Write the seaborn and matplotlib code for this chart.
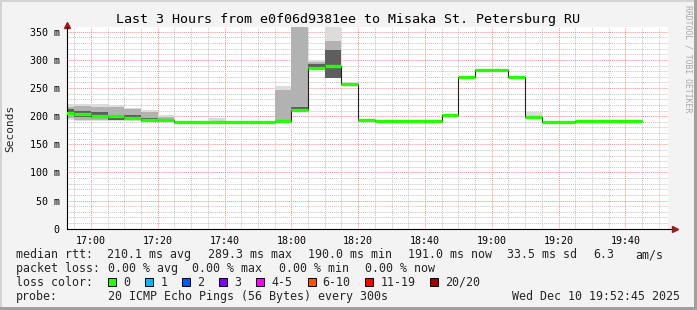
import matplotlib
matplotlib.use("Agg")
import matplotlib.pyplot as plt
import matplotlib.dates as mdates
from matplotlib.patches import Rectangle
from matplotlib.ticker import MultipleLocator, FuncFormatter
import numpy as np
import pandas as pd
import seaborn as sns

# ---------------- data ----------------
day = "2025-12-10 "
interval_start = ["16:50", "16:55", "17:00", "17:05", "17:10", "17:15", "17:20",
                  "17:25", "17:30", "17:35", "17:40", "17:45", "17:50", "17:55",
                  "18:00", "18:05", "18:10", "18:15", "18:20", "18:25", "18:30",
                  "18:35", "18:40", "18:45", "18:50", "18:55", "19:00", "19:05",
                  "19:10", "19:15", "19:20", "19:25", "19:30", "19:35", "19:40"]
median_ms = [206, 203.5, 201, 199.5, 197.5, 193, 192.5,
             190.5, 190.5, 190.5, 190.5, 190.5, 190.5, 191.5,
             211, 286, 290, 257, 193, 191, 191,
             191, 191, 202, 269.5, 281.5, 281.5, 269.5,
             199, 190.5, 190.5, 191.5, 191.5, 191.5, 191.5]
# smoke bands (outer / mid / inner ranges of the 20 pings)
outer_lo = [193, 191, 191, 191, 192, 191, 191,
            190.5, 190.5, 190, 190.5, 190.5, 190.5, 191,
            211, 283, 268, 257, 191, 191, 191,
            191, 191, 202, 269.5, 281.5, 281.5, 269.5,
            197, 190.5, 190.5, 191.5, 191.5, 191.5, 191.5]
outer_hi = [221, 221, 221, 219, 214, 211, 202,
            190.5, 190.5, 196, 190.5, 190.5, 190.5, 254,
            370, 299, 370, 257, 195, 191, 191,
            191, 191, 202, 269.5, 281.5, 281.5, 269.5,
            207, 190.5, 190.5, 191.5, 191.5, 191.5, 191.5]
mid_lo = [196, 194, 193, 193, 193, 192, 191,
          190.5, 190.5, 190.5, 190.5, 190.5, 190.5, 191,
          211, 284, 268, 257, 193, 191, 191,
          191, 191, 202, 269.5, 281.5, 281.5, 269.5,
          199, 190.5, 190.5, 191.5, 191.5, 191.5, 191.5]
mid_hi = [217, 218, 217, 216, 212, 207, 199,
          190.5, 190.5, 190.5, 190.5, 190.5, 190.5, 246,
          370, 296, 334, 257, 193, 191, 191,
          191, 191, 202, 269.5, 281.5, 281.5, 269.5,
          199, 190.5, 190.5, 191.5, 191.5, 191.5, 191.5]
inner_lo = [204, 199, 197, 193, 195, 192, 191,
            190.5, 190.5, 190.5, 190.5, 190.5, 190.5, 191.5,
            212, 285, 268, 257, 193, 191, 191,
            191, 191, 202, 269.5, 281.5, 281.5, 269.5,
            199, 190.5, 190.5, 191.5, 191.5, 191.5, 191.5]
inner_hi = [213, 209, 207, 198, 202, 197, 194,
            190.5, 190.5, 190.5, 190.5, 190.5, 190.5, 191.5,
            217, 292, 318, 257, 193, 191, 191,
            191, 191, 202, 269.5, 281.5, 281.5, 269.5,
            199, 190.5, 190.5, 191.5, 191.5, 191.5, 191.5]

title = "Last 3 Hours from e0f06d9381ee to Misaka St. Petersburg RU"
view_start = "16:52:45"
view_end = "19:52:45"
loss_labels = ["0", "1", "2", "3", "4-5", "6-10", "11-19", "20/20"]
loss_colors = ["#26ff00", "#00b8ff", "#0059ff", "#7e00ff", "#ff00ff",
               "#ff5500", "#ff0000", "#a10000"]

# ---------------- figure ----------------
sns.set_style("white")
plt.rcParams['font.family'] = ['DejaVu Sans Mono', 'DejaVu Sans']

W, H = 697, 310
fig = plt.figure(figsize=(W / 100, H / 100), dpi=100, facecolor="#f3f3f3")

def fx(px):
    return px / W

def fy(py):
    return 1 - py / H

ax_l, ax_r, ax_t, ax_b = 66.7, 668, 26.7, 228.7
ax = fig.add_axes([fx(ax_l), fy(ax_b), (ax_r - ax_l) / W, (ax_b - ax_t) / H])
ax.set_facecolor("white")

starts = pd.to_datetime([day + s for s in interval_start])
ends = starts + pd.Timedelta(minutes=5)
edges = list(starts) + [ends[-1]]

def ext(a):
    return list(a) + [a[-1]]

# grid
ax.set_axisbelow(True)
ax.yaxis.set_major_locator(MultipleLocator(50))
ax.yaxis.set_minor_locator(MultipleLocator(10))
ax.xaxis.set_major_locator(mdates.MinuteLocator(byminute=range(0, 60, 20)))
ax.xaxis.set_minor_locator(mdates.MinuteLocator(byminute=range(0, 60, 5)))
ax.xaxis.set_major_formatter(mdates.DateFormatter("%H:%M"))
ax.yaxis.set_major_formatter(FuncFormatter(lambda v, p: "0" if v == 0 else f"{int(v)} m"))
ax.grid(which="minor", color="#c4c4c4", ls=(0, (1, 1)), lw=0.7)
ax.grid(which="major", color="#ff8c8c", ls=(0, (1, 1)), lw=0.7)

# smoke
ax.fill_between(edges, ext(outer_lo), ext(outer_hi), step="post", color="#dcdcdc", lw=0)
ax.fill_between(edges, ext(mid_lo), ext(mid_hi), step="post", color="#b2b2b2", lw=0)
ax.fill_between(edges, ext(inner_lo), ext(inner_hi), step="post", color="#5e5e5e", lw=0)

# median: thin dark step line + green segments
df = pd.DataFrame({"t": edges, "ms": ext(median_ms)})
sns.lineplot(data=df, x="t", y="ms", ax=ax, drawstyle="steps-post", color="#202020",
             lw=0.8, estimator=None, sort=False)
ax.hlines(median_ms, starts, ends, colors="#26ff00", lw=2.4, zorder=3)

ax.set_xlim(pd.Timestamp(day + view_start), pd.Timestamp(day + view_end))
ax.set_ylim(0, 359)
ax.set_xlabel("")
ax.set_ylabel("")

for s in ["top", "right"]:
    ax.spines[s].set_visible(False)
for s in ["left", "bottom"]:
    ax.spines[s].set_color("black")
    ax.spines[s].set_linewidth(0.8)

ax.tick_params(axis="both", which="major", direction="inout", length=4, width=0.7,
               colors="black", labelsize=7.2, pad=2)
ax.tick_params(axis="both", which="minor", direction="inout", length=2, width=0.6,
               colors="black")
ax.tick_params(axis="y", which="major", pad=3)
ax.tick_params(axis="x", which="major", pad=3)
for t in ax.get_xticklabels():
    t.set_color("black")

# axis arrows
ax.plot([1, 1.012], [0, 0], transform=ax.transAxes, color="black", lw=0.8, clip_on=False)
ax.plot([1.012], [0], transform=ax.transAxes, marker=">", color="#a01818", ms=4,
        clip_on=False)
ax.plot([0], [1.01], transform=ax.transAxes, marker="^", color="#a01818", ms=4,
        clip_on=False)

# texts
fig.text(0.5, fy(19), title, ha="center", va="center", fontsize=9.6, color="black")
fig.text(fx(10), fy(128), "Seconds", rotation=90, ha="center", va="center", fontsize=8)
fig.text(fx(688), fy(59), "RRDTOOL / TOBI OETIKER", rotation=270, ha="center",
         va="center", fontsize=5.9, color="#a8a8a8")

fs = 8.4
row1 = [(15.6, "median rtt:"), (106.7, "210.1 ms avg"), (207.6, "289.3 ms max"),
        (307.6, "190.0 ms min"), (407.6, "191.0 ms now"), (507, "33.5 ms sd"),
        (593, "6.3"), (635.6, "am/s")]
row2 = [(15.6, "packet loss:"), (107.6, "0.00 % avg"), (192.4, "0.00 % max"),
        (279, "0.00 % min"), (365.3, "0.00 % now")]
for x, s in row1:
    fig.text(fx(x), fy(254.5), s, ha="left", va="center", fontsize=fs)
for x, s in row2:
    fig.text(fx(x), fy(268.5), s, ha="left", va="center", fontsize=fs)

fig.text(fx(15.6), fy(282), "loss color:", ha="left", va="center", fontsize=fs)
box_x = [108, 145.3, 182.2, 219, 256.4, 307.6, 365.3, 430.2]
for bx, lab, col in zip(box_x, loss_labels, loss_colors):
    fig.add_artist(Rectangle((fx(bx), fy(286)), 8 / W, 8 / H, transform=fig.transFigure,
                             facecolor=col, edgecolor="black", lw=0.7))
    fig.text(fx(bx + 15), fy(282), lab, ha="left", va="center", fontsize=fs)

fig.text(fx(15.6), fy(296.5), "probe:", ha="left", va="center", fontsize=fs)
fig.text(fx(107.6), fy(296.5), "20 ICMP Echo Pings (56 Bytes) every 300s", ha="left",
         va="center", fontsize=fs)
fig.text(fx(680), fy(296.5), "Wed Dec 10 19:52:45 2025", ha="right", va="center",
         fontsize=fs)

# 3D frame
fig.add_artist(Rectangle((0, 0), fx(2), 1, transform=fig.transFigure, color="#d4d4d4", lw=0))
fig.add_artist(Rectangle((0, 1 - 2 / H), 1, 2 / H, transform=fig.transFigure, color="#d4d4d4", lw=0))
fig.add_artist(Rectangle((1 - 3 / W, 0), 3 / W, 1, transform=fig.transFigure, color="#a0a0a0", lw=0))
fig.add_artist(Rectangle((0, 0), 1, 3 / H, transform=fig.transFigure, color="#a0a0a0", lw=0))

fig.savefig("out.png", dpi=100, facecolor=fig.get_facecolor())
